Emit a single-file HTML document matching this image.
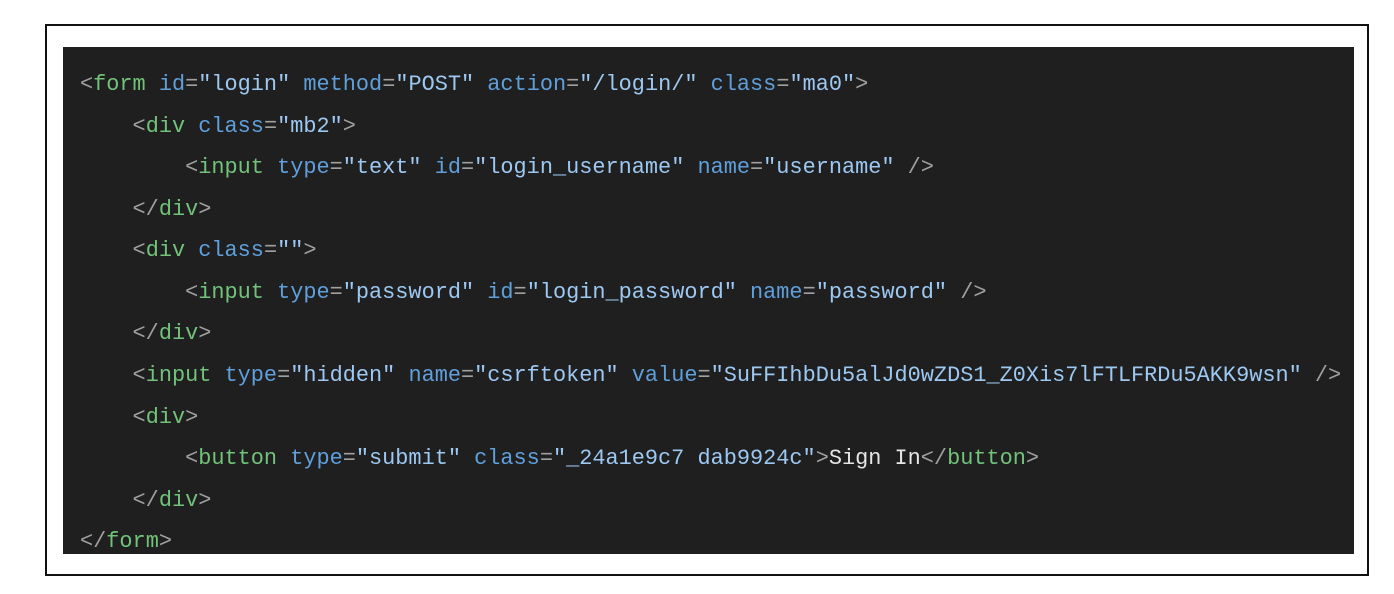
<!DOCTYPE html>
<html><head><meta charset="utf-8"><style>
html,body{margin:0;padding:0;background:#fff;width:1394px;height:594px;overflow:hidden;position:relative}
.outer{position:absolute;left:45px;top:24px;width:1320px;height:548px;border:2.5px solid #111}
.code{position:absolute;left:63px;top:47px;width:1291px;height:507px;background:#1f1f1f}
pre{position:absolute;left:80px;top:64.2px;margin:0;font-family:"Liberation Mono",monospace;font-size:21.9px;line-height:41.55px;color:#d4d4d4}
.p{color:#a0a0a0}.t{color:#71c27a}.a{color:#5f9fdc}.v{color:#9dc8f2}.x{color:#e6e6e6}
</style></head><body>
<div class="outer"></div><div class="code"></div>
<pre><span class="p">&lt;</span><span class="t">form</span> <span class="a">id</span><span class="p">=</span><span class="v">"login"</span> <span class="a">method</span><span class="p">=</span><span class="v">"POST"</span> <span class="a">action</span><span class="p">=</span><span class="v">"/login/"</span> <span class="a">class</span><span class="p">=</span><span class="v">"ma0"</span><span class="p">&gt;</span>
    <span class="p">&lt;</span><span class="t">div</span> <span class="a">class</span><span class="p">=</span><span class="v">"mb2"</span><span class="p">&gt;</span>
        <span class="p">&lt;</span><span class="t">input</span> <span class="a">type</span><span class="p">=</span><span class="v">"text"</span> <span class="a">id</span><span class="p">=</span><span class="v">"login_username"</span> <span class="a">name</span><span class="p">=</span><span class="v">"username"</span> <span class="p">/&gt;</span>
    <span class="p">&lt;/</span><span class="t">div</span><span class="p">&gt;</span>
    <span class="p">&lt;</span><span class="t">div</span> <span class="a">class</span><span class="p">=</span><span class="v">""</span><span class="p">&gt;</span>
        <span class="p">&lt;</span><span class="t">input</span> <span class="a">type</span><span class="p">=</span><span class="v">"password"</span> <span class="a">id</span><span class="p">=</span><span class="v">"login_password"</span> <span class="a">name</span><span class="p">=</span><span class="v">"password"</span> <span class="p">/&gt;</span>
    <span class="p">&lt;/</span><span class="t">div</span><span class="p">&gt;</span>
    <span class="p">&lt;</span><span class="t">input</span> <span class="a">type</span><span class="p">=</span><span class="v">"hidden"</span> <span class="a">name</span><span class="p">=</span><span class="v">"csrftoken"</span> <span class="a">value</span><span class="p">=</span><span class="v">"SuFFIhbDu5alJd0wZDS1_Z0Xis7lFTLFRDu5AKK9wsn"</span> <span class="p">/&gt;</span>
    <span class="p">&lt;</span><span class="t">div</span><span class="p">&gt;</span>
        <span class="p">&lt;</span><span class="t">button</span> <span class="a">type</span><span class="p">=</span><span class="v">"submit"</span> <span class="a">class</span><span class="p">=</span><span class="v">"_24a1e9c7 dab9924c"</span><span class="p">&gt;</span><span class="x">Sign In</span><span class="p">&lt;/</span><span class="t">button</span><span class="p">&gt;</span>
    <span class="p">&lt;/</span><span class="t">div</span><span class="p">&gt;</span>
<span class="p">&lt;/</span><span class="t">form</span><span class="p">&gt;</span></pre>
</body></html>
